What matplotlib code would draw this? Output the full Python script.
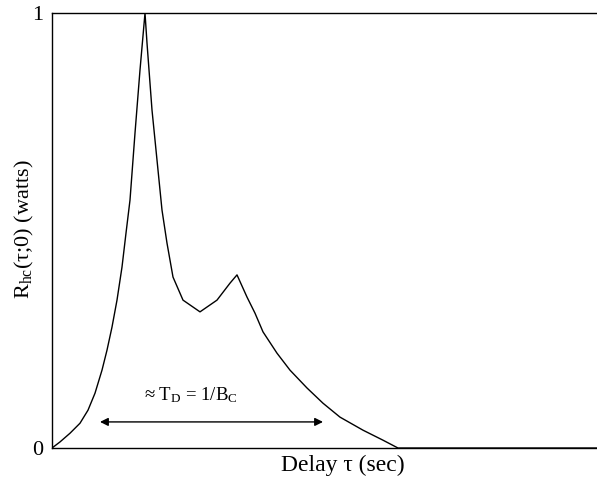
import matplotlib
matplotlib.use("Agg")
import matplotlib.pyplot as plt

plt.rcParams['font.family'] = ['Liberation Serif', 'DejaVu Serif']
plt.rcParams['mathtext.fontset'] = 'custom'
plt.rcParams['mathtext.rm'] = 'Liberation Serif'
plt.rcParams['mathtext.it'] = 'Liberation Serif:italic'

# power delay profile samples (delay, normalised power)
tau = [0.0, 0.08, 0.18, 0.28, 0.36, 0.43, 0.50, 0.55, 0.60, 0.65, 0.70, 0.74,
       0.78, 0.83, 0.88, 0.93,
       0.95, 1.00, 1.05, 1.10, 1.15, 1.21, 1.31, 1.48, 1.65, 1.78, 1.85,
       1.95, 2.03, 2.11, 2.25, 2.38, 2.55, 2.71, 2.88, 3.11, 3.31, 3.46, 5.45]
power = [0.0, 0.014, 0.034, 0.057, 0.087, 0.126, 0.179, 0.225, 0.278, 0.340, 0.416, 0.494,
         0.570, 0.724, 0.869, 1.0,
         0.931, 0.777, 0.662, 0.547, 0.471, 0.393, 0.340, 0.313, 0.340, 0.379, 0.398,
         0.347, 0.310, 0.267, 0.218, 0.179, 0.138, 0.103, 0.071, 0.041, 0.018, 0.0, 0.0]

# delay spread marker
spread_start = 0.48
spread_end = 2.71
spread_level = 0.06

fig = plt.figure(figsize=(5.97, 4.82), dpi=100)
ax = fig.add_axes([0.0871, 0.0705, 0.9129, 0.9025])

ax.plot(tau, power, color='black', lw=1.0)
ax.set_xlim(0, 5.45)
ax.set_ylim(0, 1)

ax.annotate('', xy=(spread_start, spread_level), xytext=(spread_end, spread_level),
            arrowprops=dict(arrowstyle='<|-|>', color='black', lw=1.0,
                            mutation_scale=12, shrinkA=0, shrinkB=0))
ax.text(1.39, 0.122, r'≈ T$_{\rm D}$ = 1/B$_{\rm C}$', ha='center', va='center', fontsize=13.5)

ax.spines['right'].set_visible(False)
for s in ['left', 'top', 'bottom']:
    ax.spines[s].set_linewidth(1.0)

ax.set_xticks([])
ax.set_yticks([0, 1])
ax.set_yticklabels(['0', '1'])
ax.tick_params(axis='y', length=0, pad=6, labelsize=16)

ax.set_xlabel('Delay τ (sec)', fontsize=17)
ax.xaxis.set_label_coords(0.534, -0.016, transform=ax.transAxes)
ax.xaxis.label.set_va('top')
ax.set_ylabel(r'R$_{\rm hc}$(τ;0) (watts)', fontsize=16)
ax.yaxis.set_label_coords(-0.03, 0.503)

fig.savefig('out.png', dpi=100)
